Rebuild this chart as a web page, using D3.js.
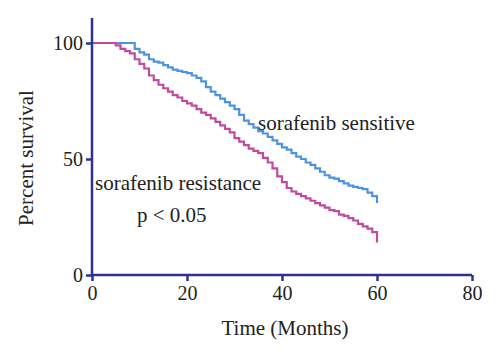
<!DOCTYPE html>
<html><head><meta charset="utf-8">
<script src="https://cdn.jsdelivr.net/npm/d3@7"></script>
<style>body{margin:0;background:#fff}svg{display:block}</style>
</head><body><svg id="c" width="500" height="358"></svg>
<script>
const sensitiveTime = [0,8,9,10,11,12,13,14,15,16,17,18,19,20,21,22,23,24,25,26,27,28,29,30,31,32,33,34,35,36,37,38,39,40,41,42,43,44,45,46,47,48,49,50,51,52,53,54,55,56,57,58,59,60];
const sensitiveSurv = [100,100,97.5,96,95,93,92,91.5,90.5,89.5,88.5,88,87.5,87,86,85,83.5,81,79,77.5,76,74.5,73,71.5,69,66.5,65,63.5,62,61,59.5,58,56.5,55,54,52.5,51,50,48.5,47.5,46,44.5,43,42,41.5,40.5,39.5,38.5,38,37.5,37,35.5,34,31];
const resistTime = [0,5,6,7,8,9,10,11,12,13,14,15,16,17,18,19,20,21,22,23,24,25,26,27,28,29,30,31,32,33,34,35,36,37,38,39,40,41,42,43,44,45,46,47,48,49,50,51,52,53,54,55,56,57,58,59,60];
const resistSurv = [100,99,97.5,96.5,95.5,93,91,89,86,84,82,80.5,79,77.5,76.5,75,74,73,71.5,70,69,67.5,66,64.5,63,61.5,59,57.5,56,54.5,53.5,52.5,50.5,48.5,46,42.5,40,37.5,36,35,34,33,32,31,30,29,28,27.5,26,25.5,24.5,23.5,22,21,20,18.5,14];
const xTicks = [0,20,40,60,80];
const yTicks = [0,50,100];

const svg = d3.select("#c");
const x = d3.scaleLinear().domain([0,80]).range([92,472]);
const y = d3.scaleLinear().domain([0,100]).range([275,43]);
const axisColor = "#2e3192";
const font = "'Liberation Serif', 'DejaVu Serif', serif";

const line = d3.line().x(d=>x(d[0])).y(d=>y(d[1])).curve(d3.curveStepAfter);
svg.append("path").datum(sensitiveTime.map((t,i)=>[t,sensitiveSurv[i]]))
  .attr("d", line).attr("fill","none").attr("stroke","#4d93de").attr("stroke-width",2.2);
svg.append("path").datum(resistTime.map((t,i)=>[t,resistSurv[i]]))
  .attr("d", line).attr("fill","none").attr("stroke","#c24a9e").attr("stroke-width",2.2);

// axes
const gx = svg.append("g").attr("transform","translate(0,275)")
  .call(d3.axisBottom(x).tickValues(xTicks).tickSize(6).tickPadding(5));
const gy = svg.append("g").attr("transform","translate(92,0)")
  .call(d3.axisLeft(y).tickValues(yTicks).tickSize(6).tickPadding(3));
gy.select(".domain").attr("d","M0,18V275");
gx.select(".domain").attr("d","M92,0H472");
[gx,gy].forEach(g=>{
  g.selectAll(".domain").attr("stroke",axisColor).attr("stroke-width",2.5);
  g.selectAll(".tick line").attr("stroke",axisColor).attr("stroke-width",2.5);
  g.selectAll(".tick text").attr("fill","#222").attr("font-family",font).attr("font-size",20);
});

svg.append("text").attr("x",285).attr("y",335).attr("text-anchor","middle")
  .attr("font-family",font).attr("font-size",21).attr("fill","#222").text("Time (Months)");
svg.append("text").attr("transform","translate(33,158) rotate(-90)").attr("text-anchor","middle")
  .attr("font-family",font).attr("font-size",21).attr("fill","#222").text("Percent survival");
svg.append("text").attr("x",258).attr("y",130)
  .attr("font-family",font).attr("font-size",21).attr("fill","#222").text("sorafenib sensitive");
svg.append("text").attr("x",95).attr("y",190)
  .attr("font-family",font).attr("font-size",21).attr("fill","#222").text("sorafenib resistance");
svg.append("text").attr("x",137).attr("y",222)
  .attr("font-family",font).attr("font-size",21).attr("fill","#222").text("p < 0.05");
</script></body></html>
